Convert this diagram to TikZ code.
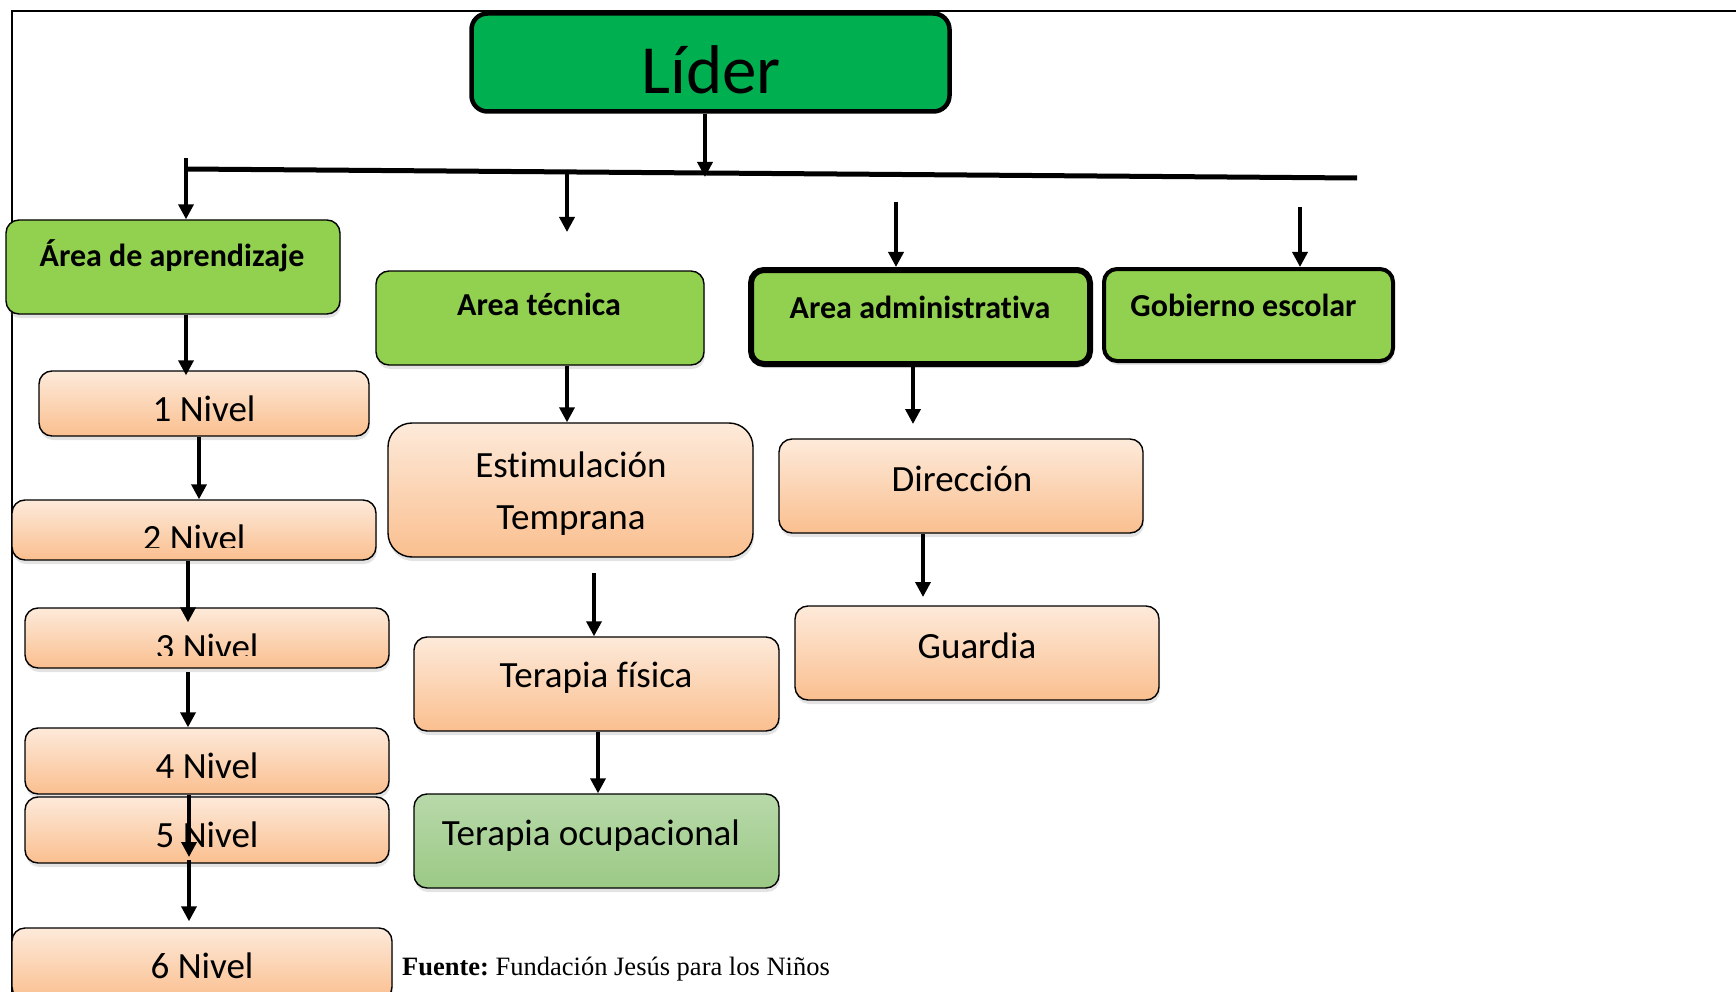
\documentclass[tikz,border=0pt]{standalone}
\usepackage{fontspec}
\setmainfont[Ligatures=NoCommon]{Carlito}
\newfontfamily\fuentefont{Liberation Serif}
\usetikzlibrary{arrows.meta,shadows}

\definecolor{verdeLider}{RGB}{0,176,80}
\definecolor{verdeArea}{RGB}{146,208,80}
\definecolor{durazno1}{RGB}{253,234,218}
\definecolor{durazno2}{RGB}{250,191,143}
\definecolor{verdeOc1}{RGB}{184,217,170}
\definecolor{verdeOc2}{RGB}{155,201,133}

\begin{document}
\begin{tikzpicture}
	[x=1pt,y=-1pt,
	 box/.style={draw,rounded corners=13pt,line width=1.4pt,inner sep=0pt},
	 sombra/.style={drop shadow={opacity=0.22,shadow xshift=1pt,shadow yshift=-4pt}},
	 area/.style={box,sombra,fill=verdeArea},
	 nivel/.style={box,sombra,top color=durazno1,bottom color=durazno2},
	 ocupa/.style={box,sombra,top color=verdeOc1,bottom color=verdeOc2},
	 txt/.style={anchor=base,inner sep=0pt,font=\fontsize{37}{44}\selectfont},
	 tit/.style={anchor=base,inner sep=0pt,font=\fontsize{32}{38}\selectfont\bfseries},
	 arr/.style={-{Triangle[width=15pt,length=15pt]},line width=3.5pt}]

	\useasboundingbox (0,0) rectangle (1736,992);

	% marco
	\draw[line width=1.6pt] (12,992) -- (12,11) -- (1736,11);

	% linea de reparto
	\coordinate (busL) at (186,169);
	\coordinate (busR) at (1357,178);
	\draw[line width=5pt] (busL) -- (busR);

	% lider
	\node[box,fill=verdeLider,line width=4.5pt,rounded corners=16pt,minimum width=478pt,minimum height=98pt] (lider) at (710.5,62.5) {};
	\node[txt,font=\fontsize{69}{82}\selectfont] (lider-t) at (711,94) {Líder};

	% areas
	\node[area,minimum width=334pt,minimum height=94pt] (aprend) at (173,267) {};
	\node[tit] (aprend-t) at (172,266) {Área de aprendizaje};
	\node[area,minimum width=328pt,minimum height=94pt] (tecnica) at (540,318) {};
	\node[tit] (tecnica-t) at (539,315) {Area técnica};
	\node[area,line width=6pt,minimum width=339pt,minimum height=94pt] (admin) at (920.5,317) {};
	\node[tit] (admin-t) at (920,318) {Area administrativa};
	\node[area,line width=4pt,minimum width=289pt,minimum height=92pt] (gob) at (1248.5,315) {};
	\node[tit] (gob-t) at (1243.5,316) {Gobierno escolar};

	% niveles
	\node[nivel,minimum width=330pt,minimum height=65pt] (n1) at (204,403.5) {};
	\node[txt] (n1-t) at (204,421) {1 Nivel};
	\node[nivel,minimum width=364pt,minimum height=60pt] (n2) at (194,530) {};
	\begin{scope}
		\clip (0,490) rectangle (400,547);
		\node[txt] (n2-t) at (194,550) {2 Nivel};
	\end{scope}
	\node[nivel,minimum width=364pt,minimum height=60pt] (n3) at (207,638) {};
	\begin{scope}
		\clip (0,600) rectangle (400,655);
		\node[txt] (n3-t) at (207,659) {3 Nivel};
	\end{scope}
	\node[nivel,minimum width=364pt,minimum height=66pt] (n4) at (207,761) {};
	\node[txt] (n4-t) at (207,778) {4 Nivel};
	\node[nivel,minimum width=364pt,minimum height=66pt] (n5) at (207,830) {};
	\node[txt] (n5-t) at (207,847) {5 Nivel};
	\node[nivel,minimum width=380pt,minimum height=72pt] (n6) at (202,964) {};
	\node[txt] (n6-t) at (202,978) {6 Nivel};

	% area tecnica
	\node[nivel,rounded corners=24pt,minimum width=365pt,minimum height=134pt] (estim) at (570.5,490) {};
	\node[txt] (estim-t1) at (571,477) {Estimulación};
	\node[txt] (estim-t2) at (571,529) {Temprana};
	\node[nivel,minimum width=365pt,minimum height=94pt] (fisica) at (596.5,684) {};
	\node[txt] (fisica-t) at (596,687) {Terapia física};
	\node[ocupa,minimum width=365pt,minimum height=94pt] (ocup) at (596.5,841) {};
	\node[txt] (ocup-t) at (591,845) {Terapia ocupacional};

	% area administrativa
	\node[nivel,minimum width=364pt,minimum height=94pt] (dir) at (961,486) {};
	\node[txt] (dir-t) at (962,491) {Dirección};
	\node[nivel,minimum width=364pt,minimum height=94pt] (guard) at (977,653) {};
	\node[txt] (guard-t) at (977,658) {Guardia};

	\node[anchor=base west,inner sep=0pt,font=\fuentefont\fontsize{26.5}{30}\selectfont\frenchspacing] (fuente) at (402,975) {\textbf{Fuente:} Fundación Jesús para los Niños};

	% flechas
	\coordinate (busLider) at (705,177);
	\coordinate (stubA) at (186,158);
	\coordinate (busT) at (567,173);
	\coordinate (tipT) at (567,232);
	\coordinate (topAd) at (896,202);
	\coordinate (topGo) at (1300,207);
	\coordinate (mid5) at (189,857);
	\coordinate (estimGap) at (594,573);
	\coordinate (dirTip) at (913,424);
	\coordinate (guardTip) at (923,597);

	\draw[arr] (lider.south -| busLider) -- (busLider);
	\draw[arr] (stubA) -- (aprend.north -| stubA);
	\draw[arr] (busT) -- (tipT);
	\draw[arr] (topAd) -- (admin.north -| topAd);
	\draw[arr] (topGo) -- (gob.north -| topGo);

	\draw[arr] (aprend.south -| stubA) -- ([yshift=-5pt]n1.north -| stubA);
	\draw[arr] ([xshift=-5pt]n1.south) -- ([xshift=5pt]n2.north);
	\draw[arr] ([xshift=-6pt]n2.south) -- ([xshift=-19pt,yshift=-15pt]n3.north);
	\draw[arr] ([xshift=-19pt,yshift=-3pt]n3.south) -- ([xshift=-19pt]n4.north);
	\draw[arr] ([xshift=-18pt]n4.south) -- (mid5);
	\draw[arr] ([yshift=-3pt]mid5) -- ([xshift=-13pt,yshift=6pt]n6.north);

	\draw[arr] ([xshift=27pt]tecnica.south) -- ([xshift=-3.5pt]estim.north);
	\draw[arr] (estimGap) -- ([xshift=-2.5pt]fisica.north);
	\draw[arr] ([xshift=1.5pt]fisica.south) -- ([xshift=1.5pt]ocup.north);

	\draw[arr] (admin.south -| dirTip) -- (dirTip);
	\draw[arr] (dir.south -| guardTip) -- (guardTip);

\end{tikzpicture}
\end{document}
